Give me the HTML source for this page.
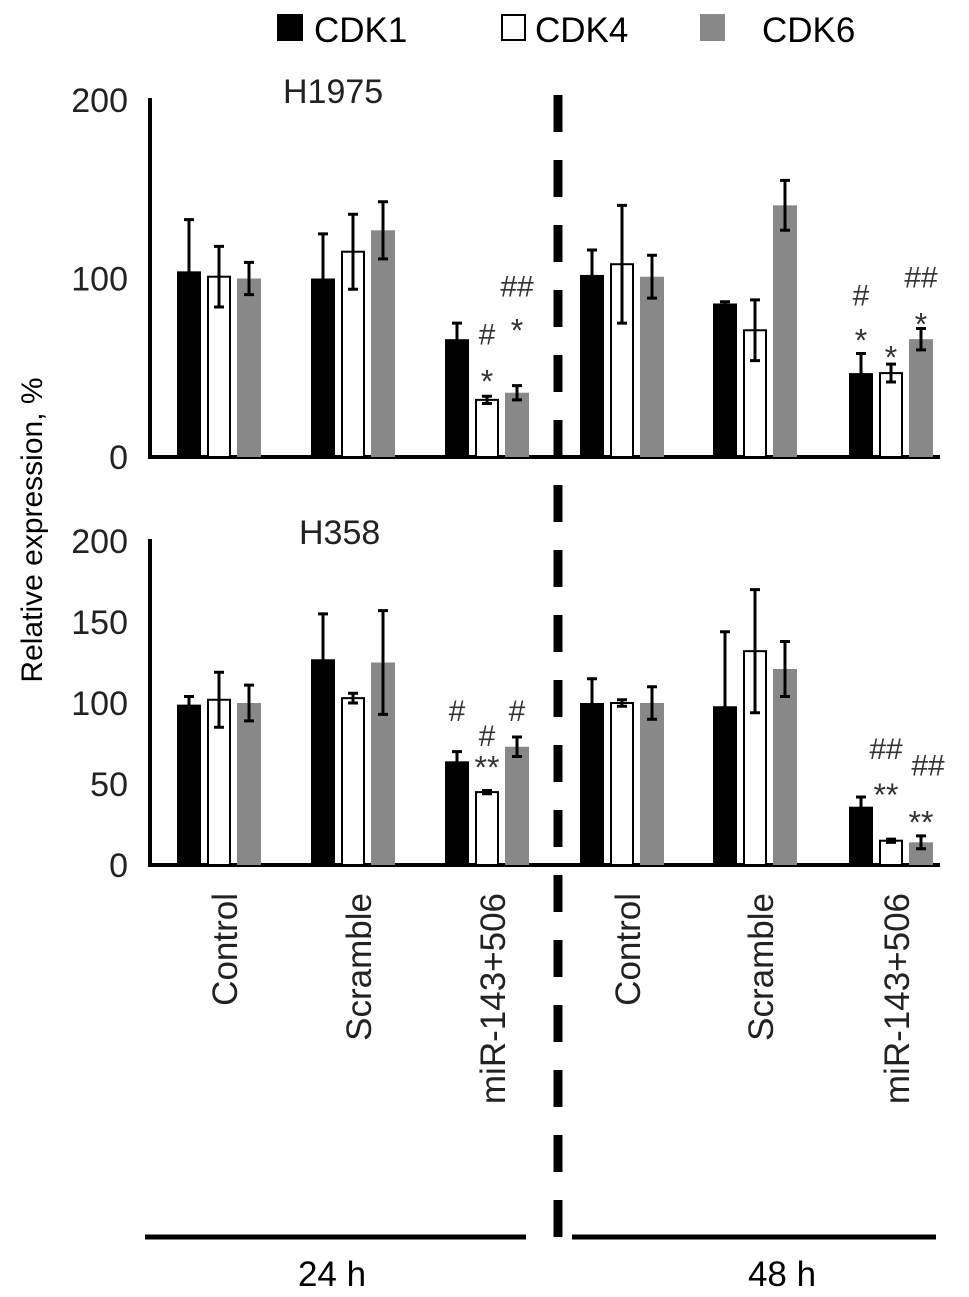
<!DOCTYPE html>
<html><head><meta charset="utf-8"><style>
html,body{margin:0;padding:0;background:#fff;}
svg{display:block;font-family:"Liberation Sans",Arial,sans-serif;}
</style></head><body>
<svg id="chart" width="969" height="1297" viewBox="0 0 969 1297" xmlns="http://www.w3.org/2000/svg">
<g>
 <rect x="277" y="14" width="26" height="27" fill="#000"/>
 <text x="314" y="42" font-size="35">CDK1</text>
 <rect x="502" y="15" width="23" height="25" fill="#fff" stroke="#000" stroke-width="2"/>
 <text x="535" y="42" font-size="35">CDK4</text>
 <rect x="700" y="14" width="25" height="27" fill="#888"/>
 <text x="762" y="42" font-size="35">CDK6</text>
</g>
<text transform="translate(42,530) rotate(-90)" text-anchor="middle" font-size="30">Relative expression, %</text>
<line x1="558" y1="95" x2="558" y2="1245" stroke="#000" stroke-width="9" stroke-dasharray="37 28"/>
<line x1="145" y1="1237" x2="526" y2="1237" stroke="#000" stroke-width="5"/>
<line x1="572" y1="1237" x2="936" y2="1237" stroke="#000" stroke-width="5"/>
<text x="332" y="1286" text-anchor="middle" font-size="35">24 h</text>
<text x="782" y="1286" text-anchor="middle" font-size="35">48 h</text>
<g id="plots"></g>
</svg>
<script>
const categories = ["Control","Scramble","miR-143+506","Control","Scramble","miR-143+506"];
const seriesNames = ["CDK1","CDK4","CDK6"];
const h1975CDK1 = [104,100,66,102,86,47];
const h1975CDK4 = [101,115,32,108,71,47];
const h1975CDK6 = [100,127,36,101,141,66];
const h1975Err1 = [29,25,9,14,1,11];
const h1975Err4 = [17,21,2,33,17,5];
const h1975Err6 = [9,16,4,12,14,6];
const h358CDK1 = [99,127,64,100,98,36];
const h358CDK4 = [102,103,45,100,132,15];
const h358CDK6 = [100,125,73,100,121,14];
const h358Err1 = [5,28,6,15,46,6];
const h358Err4 = [17,3,1,2,38,1];
const h358Err6 = [11,32,6,10,17,4];
const h1975Ticks = [0,100,200];
const h358Ticks = [0,50,100,150,200];
// [group, series, label, vertical position (value units), x shift]
const h1975Marks = [[2,1,"*",46.5,0],[2,1,"#",69,0],[2,2,"*",75,0],[2,2,"##",96,0],[5,0,"*",69.5,0],[5,0,"#",91,0],[5,1,"*",60,0],[5,2,"*",78.4,0],[5,2,"##",101,0]];
const h358Marks = [[2,0,"#",95.7,0],[2,1,"**",65,0],[2,1,"#",80,0],[2,2,"#",95.7,0],[5,0,"**",48,25],[5,0,"##",72,25],[5,2,"**",31,0],[5,2,"##",62,7]];

const NS="http://www.w3.org/2000/svg";
const root=document.getElementById('plots');
function mk(tag,attrs,parent){const e=document.createElementNS(NS,tag);for(const k in attrs)e.setAttribute(k,attrs[k]);(parent||root).appendChild(e);return e;}
const groupX=[177,311,445,580,713,849];
function barX(g,s){return groupX[g]+s*30;}
const BW=24;
const fills=["#000","#fff","#888"];

function panel(name,title,titleX,y0,y200,ticks,vals,errs,marks){
  const y=v=>y0-(y0-y200)*v/200;
  const g=mk('g',{});
  
  
  const ax=mk('line',{x1:150,y1:y200-2,x2:150,y2:y0+2,stroke:'#000','stroke-width':4},g);
  
  
  const xa=mk('line',{x1:148,y1:y0,x2:940,y2:y0,stroke:'#000','stroke-width':4},g);
  
  
  ticks.forEach(t=>{
    const tx=mk('text',{x:128,y:y(t)+12,'text-anchor':'end','font-size':34,fill:'#222'},g);
    tx.textContent=t;
    
    
  });
  const tt=mk('text',{x:titleX,y:y200+3,'font-size':34,fill:'#222'},g);
  tt.textContent=title;
  
  
  vals.forEach((arr,s)=>{
    arr.forEach((v,i)=>{
      const x=barX(i,s);
      const r=mk('rect',{x:s===1?x+1:x,y:y(v),width:s===1?BW-2:BW,height:y0-y(v),fill:fills[s],stroke:s===1?'#000':'none','stroke-width':2},g);
      
      
      const e=errs[s][i], cx=x+BW/2;
      const el=mk('path',{d:`M${cx},${y(v+e)}V${y(v-e)}M${cx-5},${y(v+e)}H${cx+5}M${cx-5},${y(v-e)}H${cx+5}`,stroke:'#000','stroke-width':3,fill:'none'},g);
      
      
    });
  });
  marks.forEach(([gi,s,txt,pos,dx])=>{
    const star=txt.indexOf('*')>=0;
    const fs=star?32:30;
    const cy=y(pos);
    const t=mk('text',{x:barX(gi,s)+BW/2+dx,y:cy+(star?0.58:0.36)*fs,'text-anchor':'middle','font-size':fs,fill:'#333'},g);
    t.textContent=txt;
    
    
  });
}
panel('h1975','H1975',283,457,100,h1975Ticks,[h1975CDK1,h1975CDK4,h1975CDK6],[h1975Err1,h1975Err4,h1975Err6],h1975Marks);
panel('h358','H358',299,865,541,h358Ticks,[h358CDK1,h358CDK4,h358CDK6],[h358Err1,h358Err4,h358Err6],h358Marks);
categories.forEach((c,i)=>{
  const t=mk('text',{transform:`translate(${groupX[i]+60},893) rotate(-90)`,'text-anchor':'end','font-size':35,fill:'#222'});
  t.textContent=c;
  
  
});
</script>
</body></html>
